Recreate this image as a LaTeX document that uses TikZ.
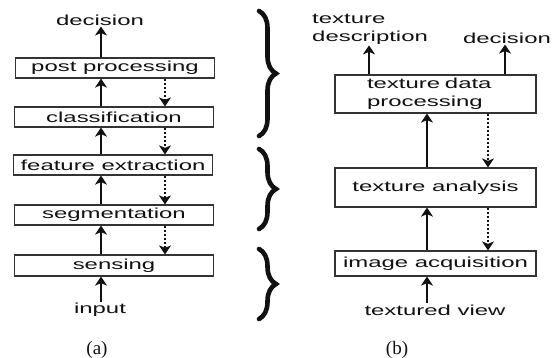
\documentclass[tikz,border=0pt]{standalone}
\usepackage{fontspec}
\setmainfont{Liberation Serif}
\newfontfamily\widesf[FakeStretch=1.65]{Liberation Sans}
\usetikzlibrary{arrows.meta,decorations.pathreplacing}
\definecolor{ink}{HTML}{111111}
\definecolor{frame}{HTML}{333333}
\newcommand{\sftext}{\widesf\fontsize{14.5}{18}\selectfont}
\tikzset{
  stage/.style={draw=frame, line width=1.2pt, minimum width=199pt, minimum height=20pt,
                inner sep=0pt, font=\sftext, text=ink},
  tag/.style={inner sep=1pt, font=\sftext, text=ink},
  caption/.style={inner sep=0pt, font=\fontsize{19}{22}\selectfont, text=ink},
  feedup/.style={-{Stealth[length=9pt,width=12pt,inset=2.5pt]}, line width=1.3pt, ink},
  feeddown/.style={feedup, line width=1.1pt, dash pattern=on 2.5pt off 1.5pt},
  curly/.style={decorate, decoration={brace, amplitude=17pt, aspect=0.5},
                line width=4.6pt, line cap=round, ink}
}

\begin{document}
\begin{tikzpicture}[x=1pt,y=-1pt]
\useasboundingbox (0,0) rectangle (559,358);

% (a) classic pipeline
\coordinate (upa) at (101,0);
\coordinate (dna) at (165,0);
\node[stage] (post) at (115,68) {post processing};
\node[stage] (cls)  at (114,117) {classification};
\node[stage] (feat) at (113,165) {feature extraction};
\node[stage] (seg)  at (114,215) {segmentation};
\node[stage, minimum height=21pt] (sens) at (114,265.5) {sensing};
\node[tag] (deca) at (100,20) {decision};
\node[tag] (inp)  at (100,310) {input};

\draw[feedup] (inp.north -| upa) -- (sens.south -| upa);
\draw[feedup] (sens.north -| upa) -- (seg.south -| upa);
\draw[feedup] (seg.north -| upa) -- (feat.south -| upa);
\draw[feedup] (feat.north -| upa) -- (cls.south -| upa);
\draw[feedup] (cls.north -| upa) -- (post.south -| upa);
\draw[feedup] (post.north -| upa) -- (deca.south -| upa);

\draw[feeddown] (post.south -| dna) -- (cls.north -| dna);
\draw[feeddown] (cls.south -| dna) -- (feat.north -| dna);
\draw[feeddown] (feat.south -| dna) -- (seg.north -| dna);
\draw[feeddown] (seg.south -| dna) -- (sens.north -| dna);

% braces grouping the stages
\draw[curly] (259,11) -- (259,136);
\draw[curly] (259,149) -- (259,229);
\draw[curly] (259,249) -- (259,319);

% (b) texture pipeline
\coordinate (upb) at (427,0);
\coordinate (dnb) at (488,0);
\coordinate (descx) at (369,0);
\coordinate (decx) at (505,0);
\node[stage, minimum width=201pt, minimum height=38pt, text width=137pt,
      inner xsep=32pt, align=left] (tdp) at (435.5,94) {texture data\\processing};
\node[stage, minimum width=201pt, minimum height=39pt] (tana) at (435.5,187.5) {texture analysis};
\node[stage, minimum width=201pt, minimum height=25pt] (iacq) at (435.5,263.5) {image acquisition};
\node[tag, anchor=west, align=left] (tdesc) at (311,29) {texture\\description};
\node[tag] (decb) at (507,38) {decision};
\node[tag] (tview) at (435,310) {textured view};

\draw[feedup] (tview.north -| upb) -- (iacq.south -| upb);
\draw[feedup] (iacq.north -| upb) -- (tana.south -| upb);
\draw[feedup] (tana.north -| upb) -- (tdp.south -| upb);
\draw[feedup] (tdp.north -| descx) -- (tdesc.south -| descx);
\draw[feedup] (tdp.north -| decx) -- (decb.south -| decx);

\draw[feeddown] (tdp.south -| dnb) -- (tana.north -| dnb);
\draw[feeddown] (tana.south -| dnb) -- (iacq.north -| dnb);

\node[caption] (capa) at (97,350) {(a)};
\node[caption] (capb) at (397,350) {(b)};
\end{tikzpicture}
\end{document}
